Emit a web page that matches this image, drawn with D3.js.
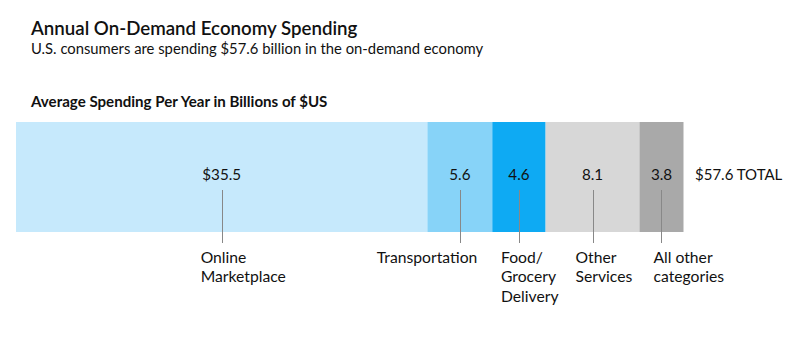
<!DOCTYPE html>
<html><head><meta charset="utf-8">
<script src="https://cdn.jsdelivr.net/npm/d3@7"></script>
<style>
body{margin:0;background:#fff;}
svg{display:block;font-family:Lato,"Open Sans",sans-serif;}
</style></head><body>
<svg id="chart" width="801" height="361"></svg>
<script>
const categories = ["Online Marketplace","Transportation","Food/ Grocery Delivery","Other Services","All other categories"];
const labelLines = [["Online","Marketplace"],["Transportation"],["Food/","Grocery","Delivery"],["Other","Services"],["All other","categories"]];
const values = [35.5, 5.6, 4.6, 8.1, 3.8];
const valueLabels = ["$35.5","5.6","4.6","8.1","3.8"];
const totalLabel = "$57.6 TOTAL";
const colors = ["#c6e9fc","#87d3f8","#0eaaf3","#d7d7d7","#a9a9a9"];
// layout: horizontal offset of each category label relative to its leader line
const labelDx = [-21,-83,-18,-17,-8];

const svg = d3.select("#chart");
const total = d3.sum(values);
const x = d3.scaleLinear().domain([0,total]).range([16,683.5]);
const y0 = 122, bh = 110;

const stack = [];
let acc = 0;
values.forEach((v,i)=>{stack.push({i, v, a:acc, b:acc+v}); acc+=v;});

svg.append("text").attr("x",31).attr("y",34.5).attr("font-size",18.7).attr("font-weight",600).attr("fill","#111")
  .text("Annual On-Demand Economy Spending");
svg.append("text").attr("x",31).attr("y",54).attr("font-size",14.8).attr("fill","#111")
  .text("U.S. consumers are spending $57.6 billion in the on-demand economy");
svg.append("text").attr("x",31).attr("y",106.5).attr("font-size",15.1).attr("font-weight",700).attr("fill","#111")
  .text("Average Spending Per Year in Billions of $US");

svg.selectAll("rect.seg").data(stack).join("rect").attr("class","seg")
  .attr("x",d=>x(d.a)).attr("width",d=>x(d.b)-x(d.a))
  .attr("y",y0).attr("height",bh).attr("fill",d=>colors[d.i]);

svg.selectAll("text.val").data(stack).join("text").attr("class","val")
  .attr("x",d=>(x(d.a)+x(d.b))/2).attr("y",180).attr("text-anchor","middle")
  .attr("font-size",15.2).attr("fill","#111").text(d=>valueLabels[d.i]);

svg.selectAll("line.lead").data(stack).join("line").attr("class","lead")
  .attr("x1",d=>Math.round((x(d.a)+x(d.b))/2)+0.5).attr("x2",d=>Math.round((x(d.a)+x(d.b))/2)+0.5)
  .attr("y1",190).attr("y2",243).attr("stroke","#888").attr("stroke-width",1);

const lbl = svg.selectAll("text.cat").data(stack).join("text").attr("class","cat")
  .attr("font-size",15.7).attr("fill","#111");
lbl.each(function(d){
  const cx = (x(d.a)+x(d.b))/2 + labelDx[d.i];
  d3.select(this).selectAll("tspan").data(labelLines[d.i]).join("tspan")
    .attr("x",cx).attr("y",(t,j)=>263+j*19.3).text(t=>t);
});

svg.append("text").attr("x",695).attr("y",180).attr("font-size",15).attr("fill","#111").text(totalLabel);
</script>
</body></html>
